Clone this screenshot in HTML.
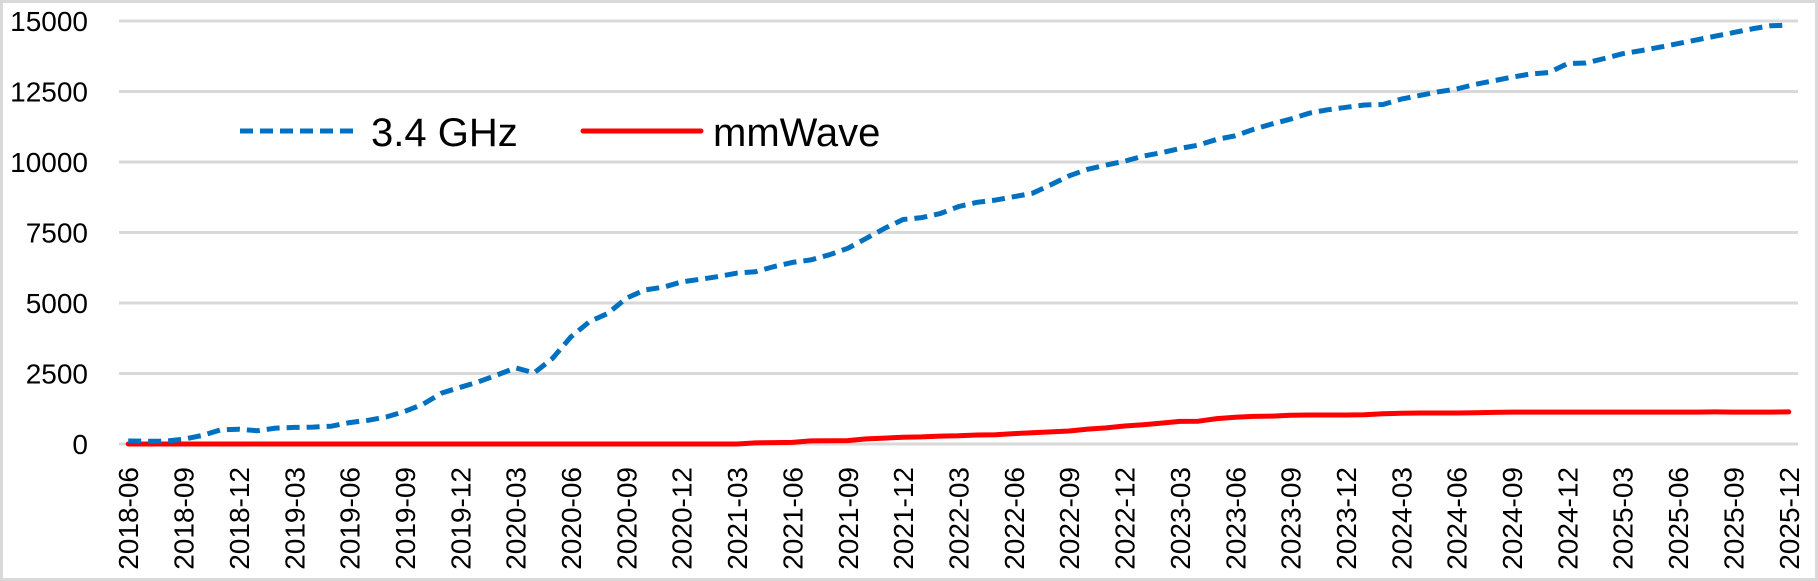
<!DOCTYPE html>
<html><head><meta charset="utf-8"><style>
html,body{margin:0;padding:0;background:#fff;}
svg{display:block;font-family:"Liberation Sans",sans-serif;}
</style></head><body>
<svg id="chart" width="1818" height="581" viewBox="0 0 1818 581">
<rect x="1.5" y="1.5" width="1815" height="578" fill="#fff" stroke="#d9d9d9" stroke-width="3"/>
<g id="grid"></g>
<g id="yaxis"></g>
<g id="xaxis"></g>
<g id="series"></g>
<g>
  <g>
    <line x1="240" y1="131" x2="353" y2="131" stroke="#0070c0" stroke-width="5" stroke-dasharray="13,7"/>
    <text x="371" y="146" font-size="40" fill="#000">3.4 GHz</text>
  </g>
  <g>
    <line x1="583" y1="131" x2="701" y2="131" stroke="#ff0000" stroke-width="5" stroke-linecap="round"/>
    <text x="713" y="146" font-size="40" fill="#000">mmWave</text>
  </g>
</g>
</svg>
<script>
const startYear = 2018, startMonth = 6, monthCount = 91;
const yTicks = [0, 2500, 5000, 7500, 10000, 12500, 15000];
const ghz34 = [105,100,100,170,300,500,525,470,565,590,600,630,760,840,960,1160,1420,1810,2010,2210,2450,
2700,2520,3040,3800,4340,4630,5170,5460,5560,5750,
5840,5940,6060,6110,6290,6440,6530,6710,6940,7290,
7650,7960,8030,8170,8420,8570,8650,8770,8890,9190,
9510,9740,9890,10030,10210,10330,10480,10600,10800,10930,
11160,11350,11520,11730,11850,11940,12020,12040,12230,12360,
12490,12590,12750,12880,13010,13120,13170,13490,13510,13670,
13840,13950,14070,14200,14330,14460,14590,14720,14830,14850];
const mmWave = [0,0,0,0,0,0,0,0,0,0,0,0,0,0,0,0,0,0,0,0,0,
0,0,0,0,0,0,0,0,0,0,
0,0,0,40,50,55,110,115,120,180,
210,240,250,280,290,320,330,370,400,430,
460,530,570,640,680,740,800,810,900,950,
980,990,1020,1030,1030,1030,1040,1070,1090,1100,
1100,1100,1105,1120,1130,1130,1130,1130,1130,1130,
1130,1130,1130,1130,1130,1140,1130,1130,1130,1140];
const categories = [];
for (let i = 0; i < monthCount; i++) {
  const m = startMonth - 1 + i;
  categories.push((startYear + Math.floor(m / 12)) + '-' + String(m % 12 + 1).padStart(2, '0'));
}
const NS = 'http://www.w3.org/2000/svg';
const plotL = 119, plotR = 1798, yTop = 21, yBot = 444, yMax = 15000;
const step = (plotR - plotL) / categories.length;
const xPos = i => plotL + step * (i + 0.5);
const yPos = v => yBot - (v / yMax) * (yBot - yTop);
function mk(tag, attrs, parent) {
  const e = document.createElementNS(NS, tag);
  for (const k in attrs) e.setAttribute(k, attrs[k]);
  parent.appendChild(e);
  return e;
}
const grid = document.getElementById('grid'), yaxis = document.getElementById('yaxis'),
      xaxis = document.getElementById('xaxis'), series = document.getElementById('series');
yTicks.forEach(t => {
  const l = mk('line', {x1: plotL, x2: plotR, y1: yPos(t), y2: yPos(t), stroke: '#d9d9d9', 'stroke-width': 3}, grid);
  
  
  const tx = mk('text', {x: 88, y: yPos(t) + 10, 'font-size': 28, 'text-anchor': 'end', fill: '#000'}, yaxis);
  tx.textContent = String(t);
  
  
});
categories.forEach((c, i) => {
  if (i % 3 !== 0) return;
  const x = xPos(i) + 10, y = 467;
  const tx = mk('text', {x: x, y: y, 'font-size': 28, 'text-anchor': 'end', fill: '#000', transform: 'rotate(-90 ' + x + ' ' + y + ')'}, xaxis);
  tx.textContent = c;
  
  
});
function pathFor(vals) {
  return vals.map((v, i) => (i ? 'L' : 'M') + xPos(i).toFixed(1) + ' ' + yPos(v).toFixed(1)).join(' ');
}
const red = mk('path', {d: pathFor(mmWave), fill: 'none', stroke: '#ff0000', 'stroke-width': 5, 'stroke-linejoin': 'round', 'stroke-linecap': 'round'}, series);


const blue = mk('path', {d: pathFor(ghz34), fill: 'none', stroke: '#0070c0', 'stroke-width': 5, 'stroke-dasharray': '13,7', 'stroke-linejoin': 'round'}, series);


</script>
</body></html>
